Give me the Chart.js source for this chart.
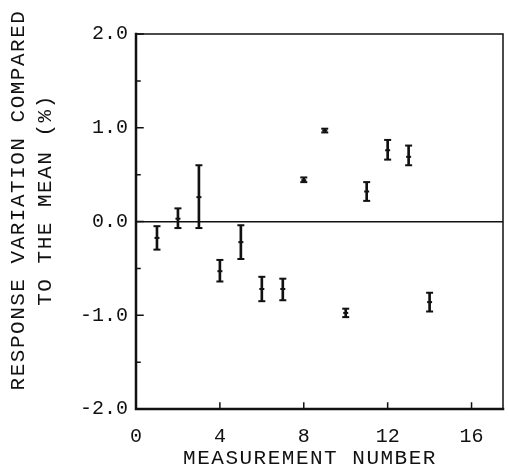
<!DOCTYPE html>
<html>
<head>
<meta charset="utf-8">
<script src="https://cdn.jsdelivr.net/npm/chart.js@4/dist/chart.umd.min.js"></script>
<style>
  html, body { margin: 0; padding: 0; background: #fff; }
  #wrap { width: 509px; height: 476px; position: relative; }
</style>
</head>
<body>
<div id="wrap"><canvas id="chart"></canvas></div>
<script>
const measurement = [1, 2, 3, 4, 5, 6, 7, 8, 9, 10, 11, 12, 13, 14]
const meanVals = [-0.175, 0.03, 0.26, -0.53, -0.22, -0.72, -0.72, 0.44, 0.97, -0.975, 0.32, 0.76, 0.69, -0.86]
const upperVals = [-0.05, 0.14, 0.6, -0.41, -0.04, -0.59, -0.61, 0.47, 0.99, -0.93, 0.42, 0.87, 0.81, -0.76]
const lowerVals = [-0.3, -0.07, -0.07, -0.64, -0.4, -0.85, -0.84, 0.42, 0.95, -1.02, 0.22, 0.66, 0.6, -0.96]

const xTickValues = [0, 4, 8, 12, 16]
const yTickValues = [-2, -1, 0, 1, 2]
const yMinorValues = [-1.5, -0.5, 0.5, 1.5]

const xTitle = "MEASUREMENT NUMBER"
const yTitle = ["RESPONSE VARIATION COMPARED", "TO THE MEAN (%)"]

const FONT = "'Liberation Mono', 'DejaVu Sans Mono', monospace"
const INK = "#111"

// frame, inward ticks and axis titles
const framePlugin = {
  id: "frame",
  afterDatasetsDraw(chart) {
    const { ctx, chartArea: a, scales } = chart
    ctx.save()
    ctx.strokeStyle = INK
    ctx.lineCap = "square"

    ctx.lineWidth = 1.5
    ctx.beginPath()
    ctx.moveTo(a.left, a.top)
    ctx.lineTo(a.right, a.top)
    ctx.lineTo(a.right, a.bottom)
    ctx.stroke()

    ctx.lineWidth = 2.5
    ctx.beginPath()
    ctx.moveTo(a.left, a.top)
    ctx.lineTo(a.left, a.bottom)
    ctx.lineTo(a.right, a.bottom)
    ctx.stroke()

    ctx.lineWidth = 1.5
    ctx.beginPath()
    yTickValues.forEach((v) => {
      const y = scales.y.getPixelForValue(v)
      ctx.moveTo(a.left, y)
      ctx.lineTo(a.left + 7, y)
    })
    yMinorValues.forEach((v) => {
      const y = scales.y.getPixelForValue(v)
      ctx.moveTo(a.left, y)
      ctx.lineTo(a.left + 4, y)
    })
    xTickValues.forEach((v) => {
      const x = scales.x.getPixelForValue(v)
      ctx.moveTo(x, a.bottom)
      ctx.lineTo(x, a.bottom - 6)
    })
    ctx.stroke()

    ctx.fillStyle = INK
    ctx.font = `21px ${FONT}`
    ctx.letterSpacing = "1.5px"
    ctx.textAlign = "center"
    ctx.textBaseline = "middle"
    ctx.fillText(xTitle, 310, 458)

    ctx.translate(0, 200)
    ctx.rotate(-Math.PI / 2)
    ctx.fillText(yTitle[0], 0, 18)
    ctx.fillText(yTitle[1], 0, 45)
    ctx.restore()
  },
}

new Chart(document.getElementById("chart"), {
  type: "scatter",
  data: {
    datasets: [
      {
        type: "bar",
        data: measurement.map((x, i) => ({ x, y: [lowerVals[i], upperVals[i]] })),
        backgroundColor: INK,
        barThickness: 2,
        grouped: false,
      },
      {
        data: measurement
          .map((x, i) => ({ x, y: upperVals[i] }))
          .concat(measurement.map((x, i) => ({ x, y: lowerVals[i] }))),
        pointStyle: "line",
        pointRadius: 3.5,
        borderWidth: 2,
        borderColor: INK,
      },
      {
        data: measurement.map((x, i) => ({ x, y: meanVals[i] })),
        pointStyle: "line",
        pointRadius: 2.5,
        borderWidth: 2,
        borderColor: INK,
      },
    ],
  },
  options: {
    animation: false,
    responsive: true,
    maintainAspectRatio: false,
    layout: { padding: { top: 34, right: 5, left: 0, bottom: 0 } },
    plugins: {
      legend: { display: false },
      tooltip: { enabled: false },
    },
    scales: {
      x: {
        type: "linear",
        min: 0,
        max: 17.5,
        offset: false,
        afterFit: (s) => { s.height = 67 },
        afterBuildTicks: (s) => { s.ticks = xTickValues.map((value) => ({ value })) },
        grid: { display: false, drawTicks: false, offset: false },
        border: { display: false },
        ticks: {
          padding: 16,
          maxRotation: 0,
          color: INK,
          font: { family: FONT, size: 20 },
        },
      },
      y: {
        min: -2,
        max: 2,
        afterFit: (s) => { s.width = 136 },
        afterBuildTicks: (s) => { s.ticks = yTickValues.map((value) => ({ value })) },
        grid: {
          drawTicks: false,
          lineWidth: 1.5,
          color: (c) => (c.tick && c.tick.value === 0 ? INK : "rgba(0,0,0,0)"),
        },
        border: { display: false },
        ticks: {
          padding: 8,
          color: INK,
          font: { family: FONT, size: 20 },
          callback: (v) => v.toFixed(1),
        },
      },
    },
  },
  plugins: [framePlugin],
})
</script>
</body>
</html>
